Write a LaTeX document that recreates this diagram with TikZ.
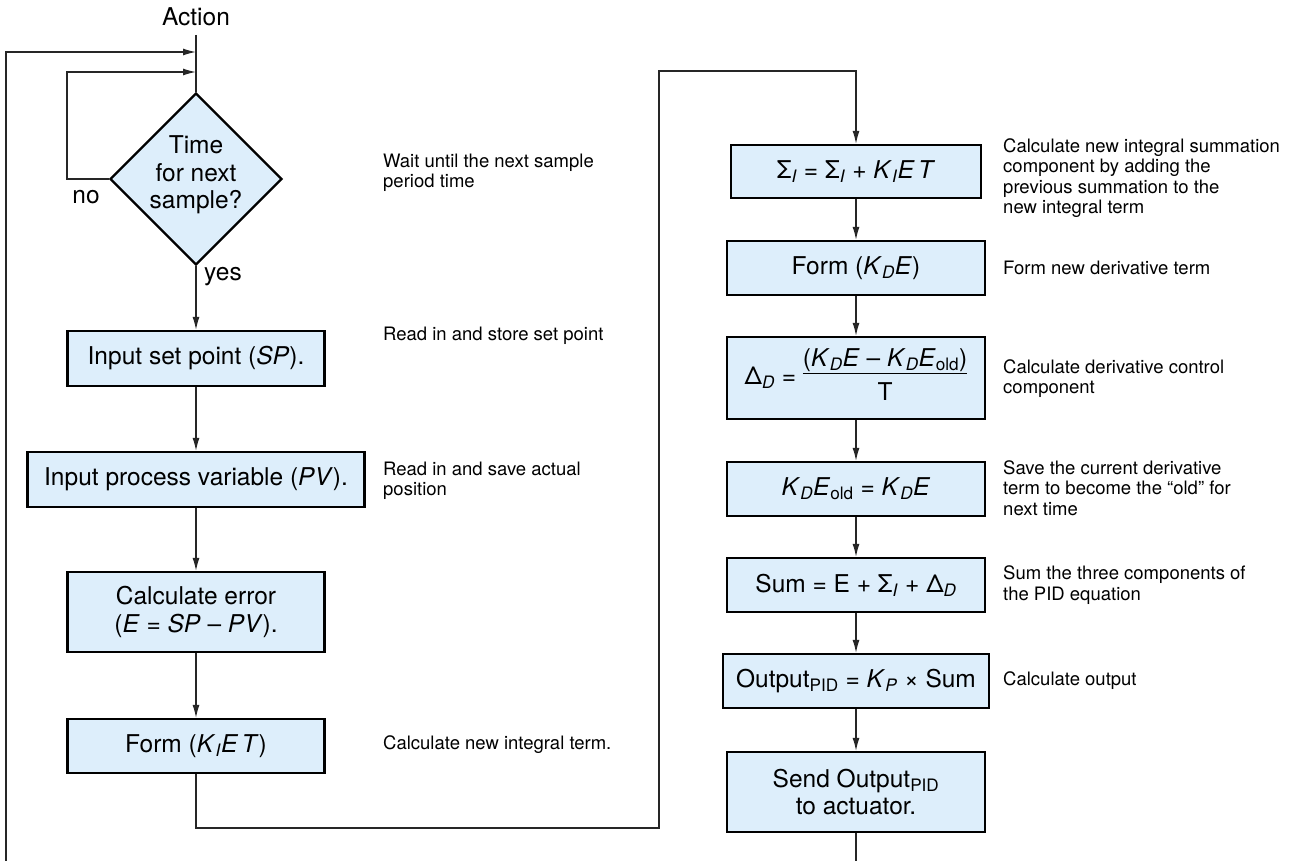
\documentclass[tikz,border=0pt]{standalone}
\usepackage{fontspec}
\setmainfont{TeX Gyre Heros}
\usetikzlibrary{arrows.meta,shapes.geometric}
\definecolor{boxfill}{RGB}{221,238,251}
\newcommand\lo[1]{\textsubscript{\textit{#1}}}
\newcommand\up[1]{\textsubscript{#1}}
\newcommand\bxfont{\fontsize{24.5}{27.5}\selectfont}
\newcommand\dsfont{\fontsize{18.5}{20.5}\selectfont}
\newcommand\myfrac[2]{{\setlength\arrayrulewidth{1pt}\begin{tabular}{@{}c@{}}#1\\[-2pt]\hline\rule{0pt}{26pt}#2\end{tabular}}}
\begin{document}
\begin{tikzpicture}[x=1pt,y=-1pt,
  box/.style={draw=black, line width=2.2pt, fill=boxfill, inner sep=0pt, font=\bxfont, align=center, minimum height=54pt},
  desc/.style={anchor=west, inner sep=0pt, align=left, font=\dsfont},
  lbl/.style={inner sep=0pt, font=\bxfont, align=center},
  conn/.style={line width=1.3pt, draw=black!85},
  arr/.style={conn, -{Latex[length=13pt,width=7pt]}}]
\useasboundingbox (0,0) rectangle (1300,861);
\fill[white] (0,0) rectangle (1300,861);

% labels
\node[lbl] (action) at (196,17) {Action};
\node[draw=black, line width=2.2pt, fill=boxfill, diamond, aspect=1, minimum width=172pt, minimum height=172pt, inner sep=0pt] (dia) at (196,179) {};
\node[lbl] (dtext) at (196,175) {Time\\for next\\sample?};
\node[lbl] (no) at (86,197) {no};
\node[lbl] (yes) at (223,277) {yes};

% left column
\node[box, minimum width=257pt, minimum height=55pt] (b1) at (196,358.5) {Input set point (\textit{SP}).};
\node[box, minimum width=337pt, minimum height=55pt] (b2) at (196,479.5) {Input process variable (\textit{PV}).};
\node[box, minimum width=257pt, minimum height=80pt] (b3) at (196,612) {Calculate error\\(\textit{E} = \textit{SP} – \textit{PV}).};
\node[box, minimum width=257pt, minimum height=54pt] (b4) at (196,746) {Form (\textit{K}\lo{I}\textit{E\,T})};

% right column
\node[box, minimum width=250pt, minimum height=53pt] (r1) at (856,171.5) {Σ\lo{I} = Σ\lo{I} + \textit{K}\lo{I}\textit{E\,T}};
\node[box, minimum width=258pt, minimum height=54pt] (r2) at (856,268) {Form (\textit{K}\lo{D}\textit{E})};
\node[box, minimum width=258pt, minimum height=82pt] (r3) at (856,378) {Δ\lo{D} = \myfrac{(\textit{K}\lo{D}\textit{E} – \textit{K}\lo{D}\textit{E}\up{old})}{T}};
\node[box, minimum width=258pt, minimum height=54pt] (r4) at (856,489) {\textit{K}\lo{D}\textit{E}\up{old} = \textit{K}\lo{D}\textit{E}};
\node[box, minimum width=258pt, minimum height=54pt] (r5) at (856,585) {Sum = E + Σ\lo{I} + Δ\lo{D}};
\node[box, minimum width=266pt, minimum height=54pt] (r6) at (856,681) {Output\up{PID} = \textit{K}\lo{P} × Sum};
\node[box, minimum width=258pt, minimum height=80pt] (r7) at (856,792) {Send Output\up{PID}\\to actuator.};

% descriptions
\node[desc] (d0) at (383,173) {Wait until the next sample\\period time};
\node[desc] (d1) at (383,336) {Read in and store set point};
\node[desc] (d2) at (383,481) {Read in and save actual\\position};
\node[desc] (d4) at (383,745) {Calculate new integral term.};
\node[desc] (e1) at (1003,178) {Calculate new integral summation\\component by adding the\\previous summation to the\\new integral term};
\node[desc] (e2) at (1003,268) {Form new derivative term};
\node[desc] (e3) at (1003,378.5) {Calculate derivative control\\component};
\node[desc] (e4) at (1003,488) {Save the current derivative\\term to become the “old” for\\next time};
\node[desc] (e5) at (1003,585) {Sum the three components of\\the PID equation};
\node[desc] (e6) at (1003,681) {Calculate output};

% coordinates
\coordinate (act) at (196,35);
\coordinate (lbot) at (6,861);
\coordinate (ltop) at (6,52);
\coordinate (in1) at (196,52);
\coordinate (nl) at (67,72);
\coordinate (in2) at (196,72);
\coordinate (m1) at (659,828);
\coordinate (m2) at (659,71);
\coordinate (rbot) at (856,861);

% connectors
\draw[conn] (act) -- (dia.north);
\draw[arr] (lbot) -- (ltop) -- (in1);
\draw[arr] (dia.west) -| (nl) -- (in2);
\draw[arr] (dia.south) -- (b1.north);
\draw[arr] (b1) -- (b2);
\draw[arr] (b2) -- (b3);
\draw[arr] (b3) -- (b4);
\draw[arr] (b4.south) |- (m1) -- (m2) -| (r1.north);
\draw[arr] (r1) -- (r2);
\draw[arr] (r2) -- (r3);
\draw[arr] (r3) -- (r4);
\draw[arr] (r4) -- (r5);
\draw[arr] (r5) -- (r6);
\draw[arr] (r6) -- (r7);
\draw[conn] (r7.south) -- (rbot);
\end{tikzpicture}
\end{document}
